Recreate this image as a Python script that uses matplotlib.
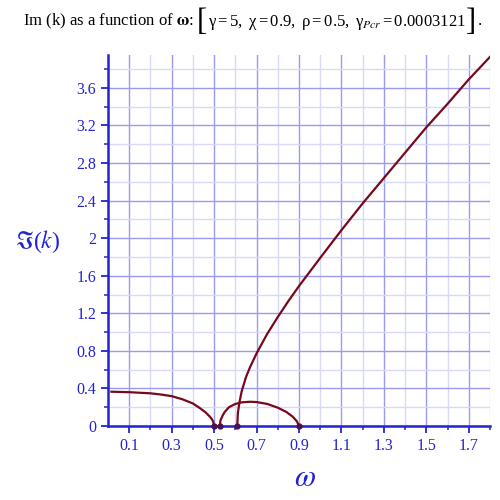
import matplotlib.pyplot as plt
from matplotlib.ticker import FixedLocator

plt.rcParams['font.family'] = 'Liberation Serif'
plt.rcParams['mathtext.fontset'] = 'stix'
plt.rcParams['mathtext.default'] = 'regular'

# branch 1 (low frequency)
w1 = [0.016, 0.1, 0.2, 0.25, 0.3, 0.35, 0.4, 0.43, 0.46, 0.48, 0.49, 0.495, 0.5]
k1 = [0.365, 0.36, 0.348, 0.335, 0.318, 0.285, 0.24, 0.195, 0.145, 0.099, 0.07, 0.05, 0.0]

# branch 2 (arc)
w2 = [0.527, 0.53, 0.54, 0.55, 0.57, 0.6, 0.63, 0.67, 0.7, 0.75, 0.8, 0.84, 0.87, 0.89, 0.9]
k2 = [0.0, 0.06, 0.11, 0.15, 0.2, 0.235, 0.252, 0.258, 0.255, 0.235, 0.195, 0.15, 0.1, 0.05, 0.0]

# branch 3 (rising)
w3 = [0.609, 0.612, 0.62, 0.63, 0.65, 0.67, 0.7, 0.75, 0.8, 0.85, 0.9, 0.95, 1.0,
      1.1, 1.2, 1.3, 1.4, 1.5, 1.6, 1.7, 1.8]
k3 = [0.0, 0.14, 0.26, 0.37, 0.52, 0.63, 0.773, 0.98, 1.16, 1.33, 1.49, 1.64, 1.79,
      2.085, 2.37, 2.64, 2.91, 3.18, 3.43, 3.69, 3.93]

# end points sitting on the axis
w_dots = [0.5, 0.527, 0.609, 0.9]
k_dots = [0, 0, 0, 0]

x_major = [0.1, 0.3, 0.5, 0.7, 0.9, 1.1, 1.3, 1.5, 1.7]
x_minor = [0.2, 0.4, 0.6, 0.8, 1.0, 1.2, 1.4, 1.6, 1.8]
x_labels = ['0.1', '0.3', '0.5', '0.7', '0.9', '1.1', '1.3', '1.5', '1.7']
y_major = [0, 0.4, 0.8, 1.2, 1.6, 2.0, 2.4, 2.8, 3.2, 3.6]
y_minor = [0.2, 0.6, 1.0, 1.4, 1.8, 2.2, 2.6, 3.0, 3.4, 3.8]
y_labels = ['0', '0.4', '0.8', '1.2', '1.6', '2', '2.4', '2.8', '3.2', '3.6']

blue = '#2323d2'
curve = '#78091c'

fig = plt.figure(figsize=(5, 5), dpi=100)
ax = fig.add_axes([0.216, 0.148, 0.764, 0.742])

ax.plot(w1, k1, color=curve, lw=1.6, zorder=3)
ax.plot(w2, k2, color=curve, lw=1.6, zorder=3)
ax.plot(w3, k3, color=curve, lw=1.6, zorder=3)
ax.plot(w_dots, k_dots, 'o', color='#4a1050', ms=3.5, zorder=4, clip_on=False)

ax.set_xlim(0, 1.80)
ax.set_ylim(0, 3.95)

ax.xaxis.set_major_locator(FixedLocator(x_major))
ax.xaxis.set_minor_locator(FixedLocator(x_minor))
ax.yaxis.set_major_locator(FixedLocator(y_major))
ax.yaxis.set_minor_locator(FixedLocator(y_minor))
ax.set_xticklabels(x_labels)
ax.set_yticklabels(y_labels)

ax.grid(True, which='major', color='#9a9af0', lw=1.0)
ax.grid(True, which='minor', color='#d8d8fb', lw=1.0)
ax.set_axisbelow(True)

for s in ['top', 'right']:
    ax.spines[s].set_visible(False)
for s in ['left', 'bottom']:
    ax.spines[s].set_color(blue)
    ax.spines[s].set_linewidth(1.8)

ax.tick_params(which='major', direction='out', length=5, width=1.3, color=blue,
               labelcolor=blue, labelsize=11.5)
ax.tick_params(which='minor', direction='out', length=3, width=1.1, color=blue)

# title built from pieces so the square brackets can be taller
pieces = [
    (r'Im (k) as a function of $\mathbf{\omega}$: ', 12),
    ('[', 22),
    (r'$\gamma = 5,\ \chi = 0.9,\ \rho = 0.5,\ \gamma_{\mathit{Pcr}} = 0.0003121$', 12),
    (']', 22),
    ('.', 12),
]
renderer = fig.canvas.get_renderer()
texts = []
x = 0
for s, fs in pieces:
    t = fig.text(x, 0.962, s, ha='left', va='center_baseline', fontsize=fs,
                 color='black', transform=None)
    texts.append(t)
    bb = t.get_window_extent(renderer)
    x += bb.width + 1
start = (500 - x) / 2 + 3
x = start
for t in texts:
    bb = t.get_window_extent(renderer)
    t.set_position((x, 481))
    x += bb.width + 1

fig.text(0.075, 0.516, r'$\Im(\mathit{k})$', ha='center', va='center',
         fontsize=17, color=blue)
fig.text(0.61, 0.044, r'$\mathit{\omega}$', ha='center', va='center',
         fontsize=22, color=blue)

fig.savefig('out.png', dpi=100)
